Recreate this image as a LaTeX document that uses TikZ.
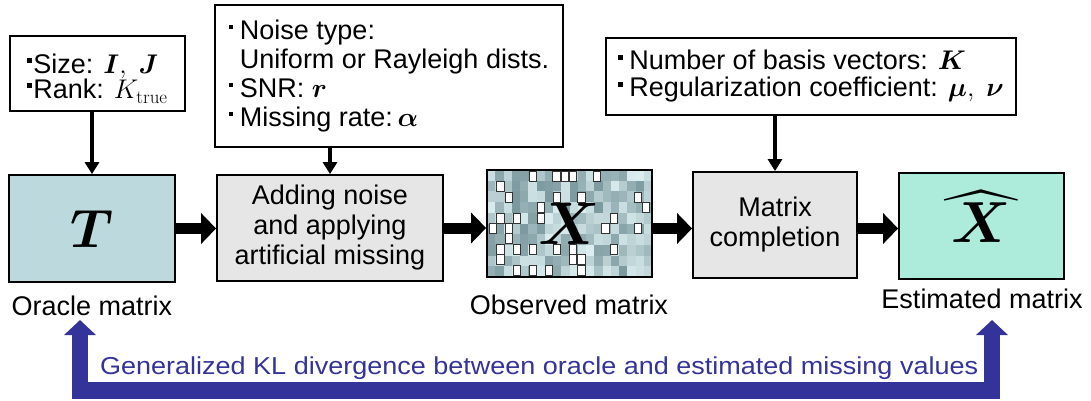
\RequirePackage{fix-cm}
\documentclass[tikz,border=0pt]{standalone}
\usepackage[no-math]{fontspec}
\setmainfont{Liberation Sans}
\usepackage{amsmath,bm,graphicx}
\DeclareFontShape{OMX}{cmex}{m}{n}{<->cmex10}{}
\usetikzlibrary{arrows.meta}
\definecolor{oraclefill}{RGB}{188,218,222}
\definecolor{procfill}{RGB}{230,230,230}
\definecolor{estfill}{RGB}{173,235,218}
\definecolor{klblue}{RGB}{51,51,153}
\definecolor{mosA}{RGB}{122,152,158}
\definecolor{mosB}{RGB}{220,238,240}
\newcommand{\sqb}{\raisebox{0.38em}{\rule{0.16em}{0.16em}}\hspace{0.25em}}
\newcommand{\sqbt}{\raisebox{0.42em}{\rule{0.16em}{0.16em}}\hspace{0.06em}}
\begin{document}
\begin{tikzpicture}[x=1pt,y=-1pt,
  every node/.style={font=\fontsize{27}{31}\selectfont},
  parambox/.style={draw, line width=1.6pt, fill=white, align=left, inner xsep=3pt, inner ysep=0pt},
  procbox/.style={draw, line width=1.8pt, align=center, inner sep=0pt},
  feed/.style={line width=3.5pt, -{Triangle[width=14pt,length=12pt]}},
  flow/.style={line width=11pt, -{Triangle[width=30pt,length=15pt]}},
  klarrow/.style={klblue, line width=16.5pt, line join=miter,
     {Triangle[width=31pt,length=15pt]}-{Triangle[width=31pt,length=15pt]}},
  mlabel/.style={anchor=base},
  hole/.style={fill=white, draw=black!80, line width=0.6pt}
]
\useasboundingbox (0,0) rectangle (1091,401);

% parameter boxes
\node[parambox, minimum width=175pt, minimum height=75pt] (p1) at (97.5,73.5)
  {\rule{0pt}{30pt}\sqbt Size: $\bm{I},\ \bm{J}$\\[-6pt] \sqbt Rank: $K_{\mathrm{true}}$};
\node[parambox, minimum width=348pt, minimum height=142pt] (p2) at (389,76)
  {\sqb Noise type:\\[-2pt] \phantom{\sqb}Uniform or Rayleigh dists.\\[-2pt] \sqb SNR: $\bm{r}$\\[-2pt] \sqb Missing rate:\,$\bm{\alpha}$};
\node[parambox, minimum width=410pt, minimum height=77pt] (p3) at (811,76.5)
  {\sqb Number of basis vectors: $\bm{K}$\\[-4pt] \sqb Regularization coefficient: $\bm{\mu},\ \bm{\nu}$};

% mosaic of the observed matrix
\pgfmathsetseed{17}
\foreach \i in {0,...,19}{
  \foreach \j in {0,...,9}{
    \pgfmathsetmacro{\shade}{int(100*rnd)}
    \fill[mosB!\shade!mosA] (487+\i*8.25,170+\j*10.7) rectangle ++(8.25,10.7);
  }
}
\foreach \xx/\yy in {148/20,218/20,243/20,268/20,340/20,
  50/50,
  75/82,220/82,293/82,462/82,
  172/112,487/112,
  50/145,100/145,172/145,390/145,
  27/175,75/175,365/175,462/175,
  75/205,
  50/237,100/237,148/237,220/237,268/237,390/237,
  50/267,268/267,293/267,
  100/300,148/300,195/300,293/300}{
  \draw[hole] (480+\xx/3,165+\yy/3) rectangle ++(7.2,9.8);
}

% process row
\node[procbox, fill=oraclefill, minimum width=166pt, minimum height=107pt] (T) at (92,228.5)
  {\fontsize{54}{54}\selectfont$\bm{T}$};
\node[procbox, fill=procfill, minimum width=226pt, minimum height=106pt] (noise) at (330,228)
  {Adding noise\\[-1pt]and applying\\[-1pt]artificial missing};
\node[procbox, minimum width=165pt, minimum height=107pt] (obs) at (569.5,223.5)
  {\fontsize{60}{60}\selectfont$\bm{X}$};
\node[procbox, fill=procfill, minimum width=164pt, minimum height=106pt] (mc) at (775,225)
  {Matrix\\[-1pt]completion};
\node[procbox, fill=estfill, minimum width=165pt, minimum height=106pt] (est) at (981.5,226)
  {\fontsize{58}{58}\selectfont\ooalign{$\bm{X}$\cr\hidewidth\raisebox{-7pt}{\scalebox{0.88}[1]{$\widehat{\phantom{\bm{X}\mkern9mu}}$}}\hidewidth\cr}};

% labels
\node[mlabel] (lT) at (92,315) {Oracle matrix};
\node[mlabel] (lobs) at (569,314) {Observed matrix};
\node[mlabel] (lest) at (982,308) {Estimated matrix};

% feeds
\draw[feed] (p1.south -| T.north) -- (T.north);
\draw[feed] (p2.south -| noise.north) -- (noise.north);
\draw[feed] (p3.south -| mc.north) -- (mc.north);

% flow arrows
\draw[flow] (T.east) -- (T.east -| noise.west);
\draw[flow] (noise.east) -- (noise.east -| obs.west);
\draw[flow] (obs.east |- T.east) -- (T.east -| mc.west);
\draw[flow] (mc.east |- T.east) -- (T.east -| est.west);

% KL feedback arrow
\coordinate (klL) at (80,320);
\coordinate (klR) at (992,320);
\coordinate (klB) at (536,390.5);
\draw[klarrow] (klL) |- (klB) -| (klR);
\node[anchor=base west, text=klblue, inner sep=0pt, font=\fontsize{24.5}{28}\selectfont] (kltext) at (100,374)
  {\resizebox{878pt}{\height}{Generalized KL divergence between oracle and estimated missing values}};
\end{tikzpicture}
\end{document}
